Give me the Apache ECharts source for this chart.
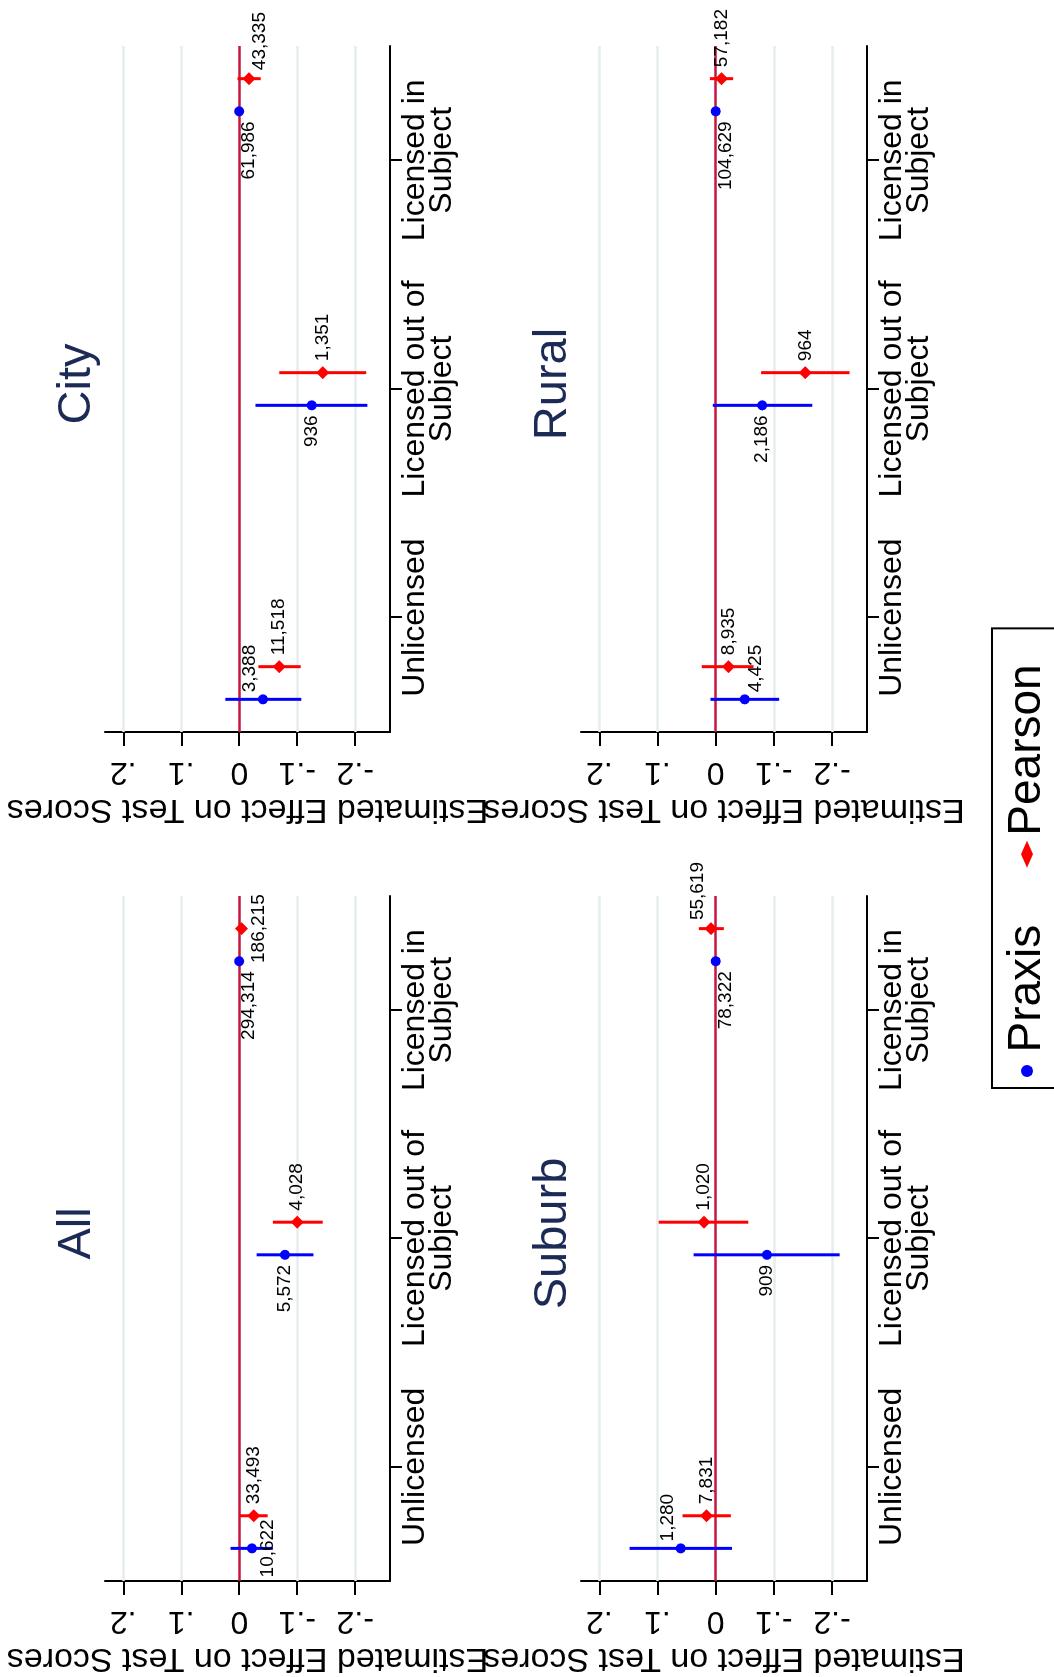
<!DOCTYPE html>
<html><head><meta charset="utf-8">
<script src="https://cdn.jsdelivr.net/npm/echarts@6/dist/echarts.min.js"></script>
<style>
html,body{margin:0;padding:0;width:1054px;height:1677px;overflow:hidden;background:#fff;}
#wrap{position:absolute;left:0;top:0;width:1677px;height:1054px;transform-origin:0 0;transform:translate(0,1677px) rotate(-90deg);}
#chart{width:1677px;height:1054px;background:#fff;}
</style></head><body>
<div id="wrap"><div id="chart"></div></div>
<script>
// ---------- data ----------
const panels = ['All', 'City', 'Suburb', 'Rural'];
const categories = ['Unlicensed', 'Licensed out of\nSubject', 'Licensed in\nSubject'];
const valueTicks = [-0.2, -0.1, 0, 0.1, 0.2];
const seriesNames = ['Praxis', 'Pearson'];

// estimates, confidence bounds, sample sizes (order: categories)
const praxisAllEst = [-0.022, -0.079, 0.000];
const praxisAllLo  = [-0.058, -0.128, -0.004];
const praxisAllHi  = [0.015, -0.030, 0.004];
const praxisAllN   = ['10,622', '5,572', '294,314'];
const pearsonAllEst = [-0.025, -0.100, -0.004];
const pearsonAllLo  = [-0.049, -0.144, -0.009];
const pearsonAllHi  = [0.000, -0.058, 0.001];
const pearsonAllN   = ['33,493', '4,028', '186,215'];

const praxisCityEst = [-0.041, -0.125, 0.000];
const praxisCityLo  = [-0.107, -0.221, -0.006];
const praxisCityHi  = [0.024, -0.028, 0.006];
const praxisCityN   = ['3,388', '936', '61,986'];
const pearsonCityEst = [-0.069, -0.144, -0.017];
const pearsonCityLo  = [-0.106, -0.219, -0.037];
const pearsonCityHi  = [-0.033, -0.069, 0.003];
const pearsonCityN   = ['11,518', '1,351', '43,335'];

const praxisSuburbEst = [0.060, -0.088, 0.000];
const praxisSuburbLo  = [-0.028, -0.213, -0.006];
const praxisSuburbHi  = [0.148, 0.038, 0.006];
const praxisSuburbN   = ['1,280', '909', '78,322'];
const pearsonSuburbEst = [0.016, 0.020, 0.008];
const pearsonSuburbLo  = [-0.026, -0.056, -0.014];
const pearsonSuburbHi  = [0.057, 0.098, 0.029];
const pearsonSuburbN   = ['7,831', '1,020', '55,619'];

const praxisRuralEst = [-0.050, -0.080, 0.000];
const praxisRuralLo  = [-0.109, -0.166, -0.006];
const praxisRuralHi  = [0.009, 0.005, 0.006];
const praxisRuralN   = ['4,425', '2,186', '104,629'];
const pearsonRuralEst = [-0.022, -0.154, -0.010];
const pearsonRuralLo  = [-0.065, -0.230, -0.030];
const pearsonRuralHi  = [0.024, -0.078, 0.010];
const pearsonRuralN   = ['8,935', '964', '57,182'];

// ---------- layout / style (not data) ----------
const dataSets = {
  All:    [[praxisAllEst, praxisAllLo, praxisAllHi, praxisAllN], [pearsonAllEst, pearsonAllLo, pearsonAllHi, pearsonAllN]],
  City:   [[praxisCityEst, praxisCityLo, praxisCityHi, praxisCityN], [pearsonCityEst, pearsonCityLo, pearsonCityHi, pearsonCityN]],
  Suburb: [[praxisSuburbEst, praxisSuburbLo, praxisSuburbHi, praxisSuburbN], [pearsonSuburbEst, pearsonSuburbLo, pearsonSuburbHi, pearsonSuburbN]],
  Rural:  [[praxisRuralEst, praxisRuralLo, praxisRuralHi, praxisRuralN], [pearsonRuralEst, pearsonRuralLo, pearsonRuralHi, pearsonRuralN]]
};
const labelPlace = {
  All:    [['bottom', 'left', 'leftDown'], ['right', 'right', 'bottom']],
  City:   [['rightUp', 'left', 'leftDown'], ['right', 'right', 'rightDown']],
  Suburb: [['rightUp', 'left', 'leftDown'], ['right', 'right', 'rightUp']],
  Rural:  [['rightDown', 'left', 'leftDown'], ['right', 'right', 'right']]
};
const placeStyle = {
  right:     { position: 'right', distance: 5, offset: [0, 0] },
  left:      { position: 'left', distance: 5, offset: [0, 0] },
  bottom:    { position: 'bottom', distance: 1, offset: [0, 0] },
  leftDown:  { position: 'left', distance: 5, offset: [0, 10] },
  rightUp:   { position: 'right', distance: 2, offset: [0, -13] },
  rightDown: { position: 'right', distance: 2, offset: [0, 11] }
};
const colors = ['#0000ff', '#ff0000'];
const symbols = ['circle', 'diamond'];
const symbolSizes = [10, 13];
const FONT = "'Liberation Sans', Arial, Helvetica, sans-serif";
const X_MAX = 21;
const tickPos = categories.map((c, i) => 3.5 + 7 * i);
const pointX = (i, s) => 1 + 9 * i + s;

const gridRects = [
  { left: 96, top: 105, width: 685, height: 285 },
  { left: 945, top: 105, width: 686, height: 285 },
  { left: 96, top: 581, width: 685, height: 286 },
  { left: 945, top: 581, width: 686, height: 286 }
];

const fmtVal = v => {
  const r = Math.round(v * 10) / 10;
  if (r === 0) return '0';
  return String(r).replace('0.', '.');
};

const option = {
  backgroundColor: '#fff',
  animation: false,
  textStyle: { fontFamily: FONT },
  title: panels.map((p, k) => ({
    text: p,
    left: gridRects[k].left + gridRects[k].width / 2,
    top: gridRects[k].top - 56,
    textAlign: 'center',
    textStyle: { fontSize: 47, fontWeight: 'normal', color: '#1c2a56', fontFamily: FONT }
  })),
  legend: {
    data: [
      { name: 'Praxis', icon: 'circle', itemStyle: { color: colors[0] } },
      { name: 'Pearson', icon: 'diamond', itemStyle: { color: colors[1] } }
    ],
    left: 589, top: 992,
    padding: [12, 36, 40, 11],
    itemWidth: 27, itemHeight: 12, itemGap: 57,
    borderColor: '#000', borderWidth: 2,
    textStyle: { fontSize: 46, color: '#000', fontFamily: FONT }
  },
  grid: gridRects.map(r => Object.assign({ containLabel: false }, r)),
  xAxis: panels.map((p, k) => ({
    type: 'value', gridIndex: k, min: 0, max: X_MAX,
    axisLine: { show: true, onZero: false, lineStyle: { color: '#000', width: 2 } },
    axisTick: { show: true, customValues: tickPos, length: 12, lineStyle: { color: '#000', width: 2 } },
    axisLabel: {
      show: true, customValues: tickPos, margin: 12, color: '#000', fontSize: 32, lineHeight: 27,
      fontFamily: FONT,
      formatter: v => categories[Math.round((v - 3.5) / 7)]
    },
    splitLine: { show: false }
  })),
  yAxis: panels.map((p, k) => ({
    type: 'value', gridIndex: k, min: -0.26, max: 0.2315,
    name: 'Estimated Effect on Test Scores', nameLocation: 'middle', nameGap: 60, nameRotate: 90,
    nameTextStyle: { fontSize: 34, color: '#000', fontFamily: FONT },
    axisLine: { show: true, onZero: false, lineStyle: { color: '#000', width: 2 } },
    axisTick: { show: true, customValues: valueTicks, length: 14, lineStyle: { color: '#000', width: 2 } },
    axisLabel: { show: true, customValues: valueTicks, rotate: 90, margin: 24, color: '#000', fontSize: 32, fontFamily: FONT, formatter: fmtVal },
    splitLine: { show: false }
  })),
  series: []
};

panels.forEach((p, k) => {
  // reference lines: grid lines and zero line
  option.series.push({
    type: 'scatter', name: 'ref' + k, xAxisIndex: k, yAxisIndex: k, data: [], silent: true, z: 1,
    markLine: {
      silent: true, z: 1, symbol: ['none', 'none'], label: { show: false }, animation: false,
      data: valueTicks.map(v => ({
        yAxis: v,
        lineStyle: v === 0 ? { color: '#c4163f', width: 2.6, type: 'solid' } : { color: '#e6edf1', width: 2.5, type: 'solid' }
      }))
    }
  });
  seriesNames.forEach((sn, s) => {
    const [est, lo, hi, n] = dataSets[p][s];
    option.series.push({
      type: 'custom', name: sn, xAxisIndex: k, yAxisIndex: k, z: 3, silent: true,
      itemStyle: { color: colors[s] },
      data: est.map((e, i) => [pointX(i, s), lo[i], hi[i]]),
      encode: { x: 0, y: [1, 2] },
      renderItem: (params, api) => {
        const a = api.coord([api.value(0), api.value(1)]);
        const b = api.coord([api.value(0), api.value(2)]);
        return { type: 'line', shape: { x1: a[0], y1: a[1], x2: b[0], y2: b[1] }, style: { stroke: colors[s], lineWidth: 3 } };
      }
    });
    option.series.push({
      type: 'scatter', name: sn, xAxisIndex: k, yAxisIndex: k, z: 4,
      symbol: symbols[s], symbolSize: symbolSizes[s],
      itemStyle: { color: colors[s], opacity: 1 },
      data: est.map((e, i) => {
        const ps = placeStyle[labelPlace[p][s][i]];
        return {
          value: [pointX(i, s), e],
          label: {
            show: true, formatter: n[i], position: ps.position, distance: ps.distance, offset: ps.offset,
            color: '#000', fontSize: 19, fontFamily: FONT
          }
        };
      })
    });
  });
});

const chart = echarts.init(document.getElementById('chart'), null, { renderer: 'canvas', width: 1677, height: 1054 });
chart.setOption(option);
</script>
</body></html>
